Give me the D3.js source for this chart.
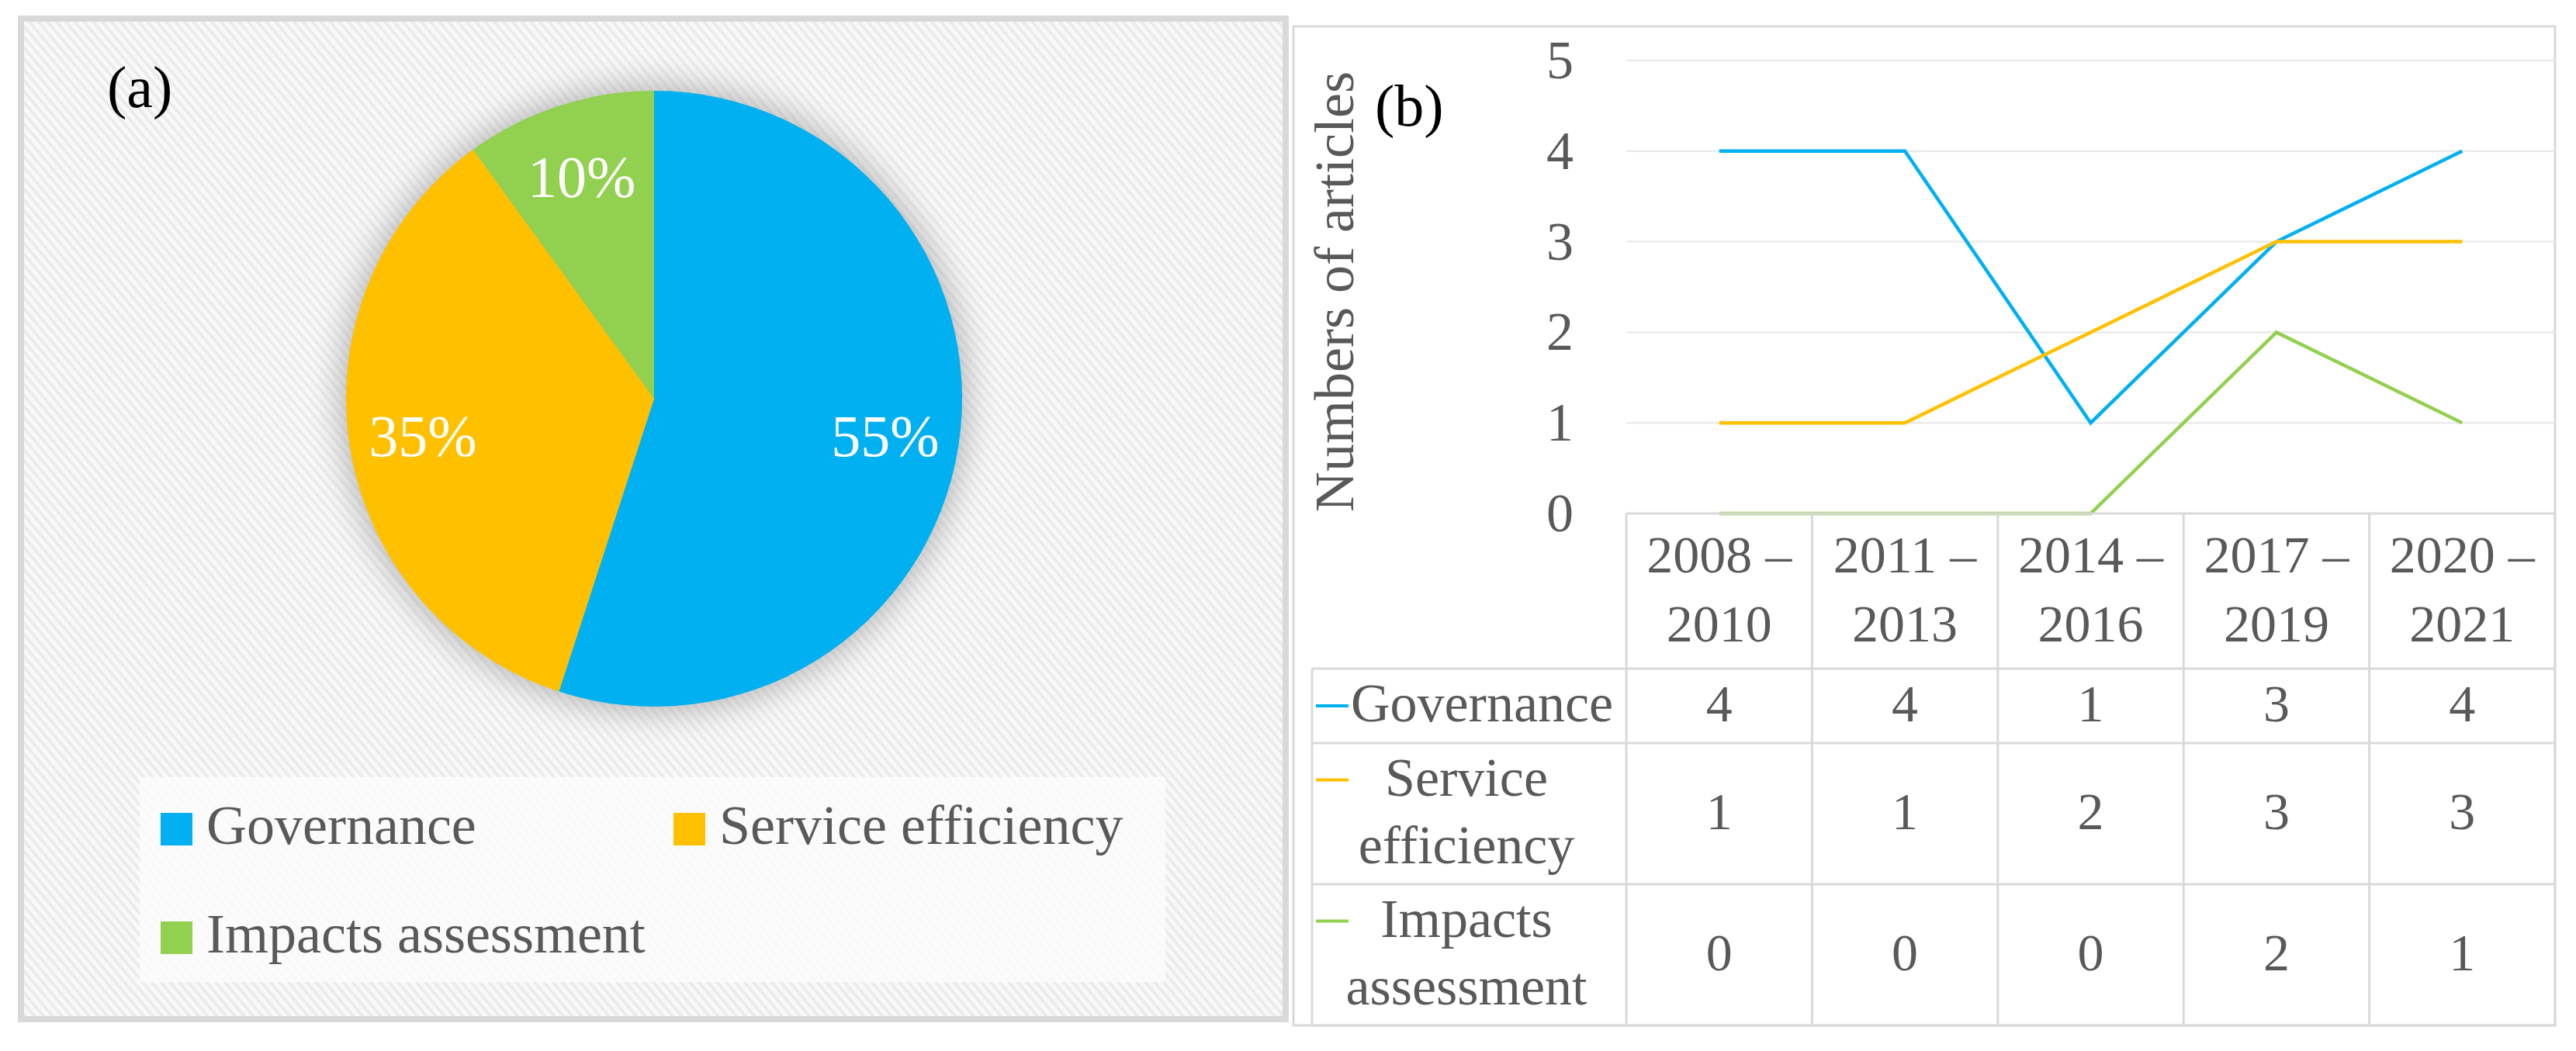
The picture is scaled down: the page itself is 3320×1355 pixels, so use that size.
<!DOCTYPE html>
<html>
<head>
<meta charset="utf-8">
<script src="https://cdn.jsdelivr.net/npm/d3@7"></script>
<style>
  body { margin: 0; background: #fff; }
  text { font-family: "Liberation Serif", "Times New Roman", serif; }
</style>
</head>
<body>
<svg id="chart" width="3320" height="1355"></svg>
<script>
// pie (a)
const shareLabels = ['Governance', 'Service efficiency', 'Impacts assessment'];
const shareValues = [55, 35, 10];
const seriesColors = ['#00b0f0', '#ffc000', '#92d050'];

// line chart + data table (b)
const periods = ['2008 – 2010', '2011 – 2013', '2014 – 2016', '2017 – 2019', '2020 – 2021'];
const periodLines = [['2008 –', '2010'], ['2011 –', '2013'], ['2014 –', '2016'], ['2017 –', '2019'], ['2020 –', '2021']];
const seriesNames = ['Governance', 'Service efficiency', 'Impacts assessment'];
const seriesLines = [['Governance'], ['Service', 'efficiency'], ['Impacts', 'assessment']];
const governance = [4, 4, 1, 3, 4];
const serviceEff = [1, 1, 2, 3, 3];
const impacts = [0, 0, 0, 2, 1];
const yTicks = [0, 1, 2, 3, 4, 5];

const svg = d3.select('#chart');
const defs = svg.append('defs');

// diagonal texture of the left panel
const pat = defs.append('pattern')
  .attr('id', 'stripes')
  .attr('patternUnits', 'userSpaceOnUse')
  .attr('width', 9).attr('height', 9)
  .attr('patternTransform', 'rotate(-40)');
pat.append('rect').attr('width', 9).attr('height', 9).attr('fill', '#f9f9f9');
pat.append('rect').attr('width', 4).attr('height', 9).attr('fill', '#ebebeb');

const blur = defs.append('filter').attr('id', 'glow')
  .attr('x', '-30%').attr('y', '-30%').attr('width', '160%').attr('height', '160%');
blur.append('feGaussianBlur').attr('stdDeviation', 20);

/* ---------- panel (a) ---------- */
svg.append('rect')
  .attr('x', 27).attr('y', 24).attr('width', 1630).attr('height', 1290)
  .attr('fill', 'url(#stripes)')
  .attr('stroke', '#d9d9d9').attr('stroke-width', 8);

svg.append('text').attr('x', 138).attr('y', 138)
  .attr('font-size', 76).attr('fill', '#000').text('(a)');

const cx = 843, cy = 514, radius = 397;
const gPie = svg.append('g').attr('transform', 'translate(' + cx + ',' + cy + ')');

gPie.append('circle').attr('r', radius + 8)
  .attr('fill', '#8f8f8f').attr('opacity', 0.6)
  .attr('filter', 'url(#glow)');

const pie = d3.pie().sort(null).value(d => d);
const arc = d3.arc().innerRadius(0).outerRadius(radius);
const labelArc = d3.arc().innerRadius(radius * 0.76).outerRadius(radius * 0.76);

const slices = gPie.selectAll('.slice')
  .data(pie(shareValues))
  .enter().append('g').attr('class', 'slice');

slices.append('path')
  .attr('d', arc)
  .attr('fill', (d, i) => seriesColors[i]);

slices.append('text')
  .attr('transform', d => 'translate(' + labelArc.centroid(d) + ')')
  .attr('text-anchor', 'middle')
  .attr('dy', '0.35em')
  .attr('font-size', 76)
  .attr('fill', '#fff')
  .text(d => d.data + '%');

// legend box
svg.append('rect')
  .attr('x', 180).attr('y', 1002).attr('width', 1322).attr('height', 264)
  .attr('fill', '#fcfcfc').attr('opacity', 0.85);

const legendPos = [[207, 1048], [868, 1048], [207, 1188]];
const legend = svg.selectAll('.leg')
  .data(shareLabels)
  .enter().append('g').attr('class', 'leg')
  .attr('transform', (d, i) => 'translate(' + legendPos[i][0] + ',' + legendPos[i][1] + ')');
legend.append('rect').attr('width', 41).attr('height', 42)
  .attr('fill', (d, i) => seriesColors[i]);
legend.append('text').attr('x', 59).attr('y', 40)
  .attr('font-size', 72).attr('fill', '#595959').text(d => d);

/* ---------- panel (b) ---------- */
svg.append('rect')
  .attr('x', 1667).attr('y', 34).attr('width', 1626).attr('height', 1288)
  .attr('fill', '#fff').attr('stroke', '#d9d9d9').attr('stroke-width', 3);

const plotLeft = 2096, plotRight = 3293, plotTop = 78, plotBottom = 662;
const x = d3.scaleBand().domain(periods).range([plotLeft, plotRight]);
const y = d3.scaleLinear().domain([0, 5]).range([plotBottom, plotTop]);

// gridlines
svg.append('g').selectAll('line')
  .data(yTicks.slice(1))
  .enter().append('line')
  .attr('x1', plotLeft).attr('x2', plotRight)
  .attr('y1', d => y(d)).attr('y2', d => y(d))
  .attr('stroke', '#e6e6e6').attr('stroke-width', 2);

// y axis labels
const yAxis = svg.append('g')
  .attr('transform', 'translate(' + plotLeft + ',0)')
  .call(d3.axisLeft(y).tickValues(yTicks).tickFormat(d3.format('d')).tickSize(0).tickPadding(68));
yAxis.select('.domain').remove();
yAxis.selectAll('text')
  .attr('font-family', '"Liberation Serif", serif')
  .attr('font-size', 70).attr('fill', '#595959');

svg.append('text')
  .attr('transform', 'translate(1744,376) rotate(-90)')
  .attr('text-anchor', 'middle')
  .attr('font-size', 72).attr('fill', '#595959')
  .text('Numbers of articles');

svg.append('text').attr('x', 1772).attr('y', 162)
  .attr('font-size', 76).attr('fill', '#000').text('(b)');

// lines
const seriesData = [governance, serviceEff, impacts];
const line = d3.line()
  .x((d, i) => x(periods[i]) + x.bandwidth() / 2)
  .y(d => y(d));
svg.append('g').selectAll('path')
  .data(seriesData)
  .enter().append('path')
  .attr('d', line)
  .attr('fill', 'none')
  .attr('stroke', (d, i) => seriesColors[i])
  .attr('stroke-width', 4.5);

// data table
const tableLeft = 1691;
const rowEdges = [862, 958, 1140, 1322];
const tbl = svg.append('g')
  .attr('stroke', '#d9d9d9').attr('stroke-width', 3);
tbl.append('line').attr('x1', plotLeft).attr('x2', plotRight)
  .attr('y1', plotBottom).attr('y2', plotBottom);
rowEdges.forEach(ry => {
  tbl.append('line').attr('x1', tableLeft).attr('x2', plotRight)
    .attr('y1', ry).attr('y2', ry);
});
tbl.append('line').attr('x1', tableLeft).attr('x2', tableLeft)
  .attr('y1', rowEdges[0]).attr('y2', rowEdges[3]);
periods.concat(['end']).forEach((p, i) => {
  const xx = i < periods.length ? x(p) : plotRight;
  tbl.append('line').attr('x1', xx).attr('x2', xx)
    .attr('y1', plotBottom).attr('y2', rowEdges[3]);
});

// header
const header = svg.append('g').selectAll('text')
  .data(periodLines)
  .enter().append('text')
  .attr('text-anchor', 'middle')
  .attr('font-size', 68).attr('fill', '#595959');
header.each(function (d, i) {
  const t = d3.select(this);
  d.forEach((s, k) => {
    t.append('tspan')
      .attr('x', x(periods[i]) + x.bandwidth() / 2)
      .attr('y', 738 + k * 89)
      .text(s);
  });
});

// rows
seriesData.forEach((vals, r) => {
  const mid = (rowEdges[r] + rowEdges[r + 1]) / 2;
  const lines = seriesLines[r];
  const base0 = mid + 20 - (lines.length - 1) * 43.5;

  svg.append('line')
    .attr('x1', 1696).attr('x2', 1738)
    .attr('y1', base0 - 20).attr('y2', base0 - 20)
    .attr('stroke', seriesColors[r]).attr('stroke-width', 4);

  const lbl = svg.append('text')
    .attr('font-size', 70).attr('fill', '#595959')
    .attr('text-anchor', lines.length > 1 ? 'middle' : 'start');
  lines.forEach((s, k) => {
    lbl.append('tspan')
      .attr('x', lines.length > 1 ? 1890 : 1741)
      .attr('y', base0 + k * 87)
      .text(s);
  });

  svg.append('g').selectAll('text')
    .data(vals)
    .enter().append('text')
    .attr('x', (d, i) => x(periods[i]) + x.bandwidth() / 2)
    .attr('y', mid + 20)
    .attr('text-anchor', 'middle')
    .attr('font-size', 68).attr('fill', '#595959')
    .text(d => d);
});
</script>
</body>
</html>
